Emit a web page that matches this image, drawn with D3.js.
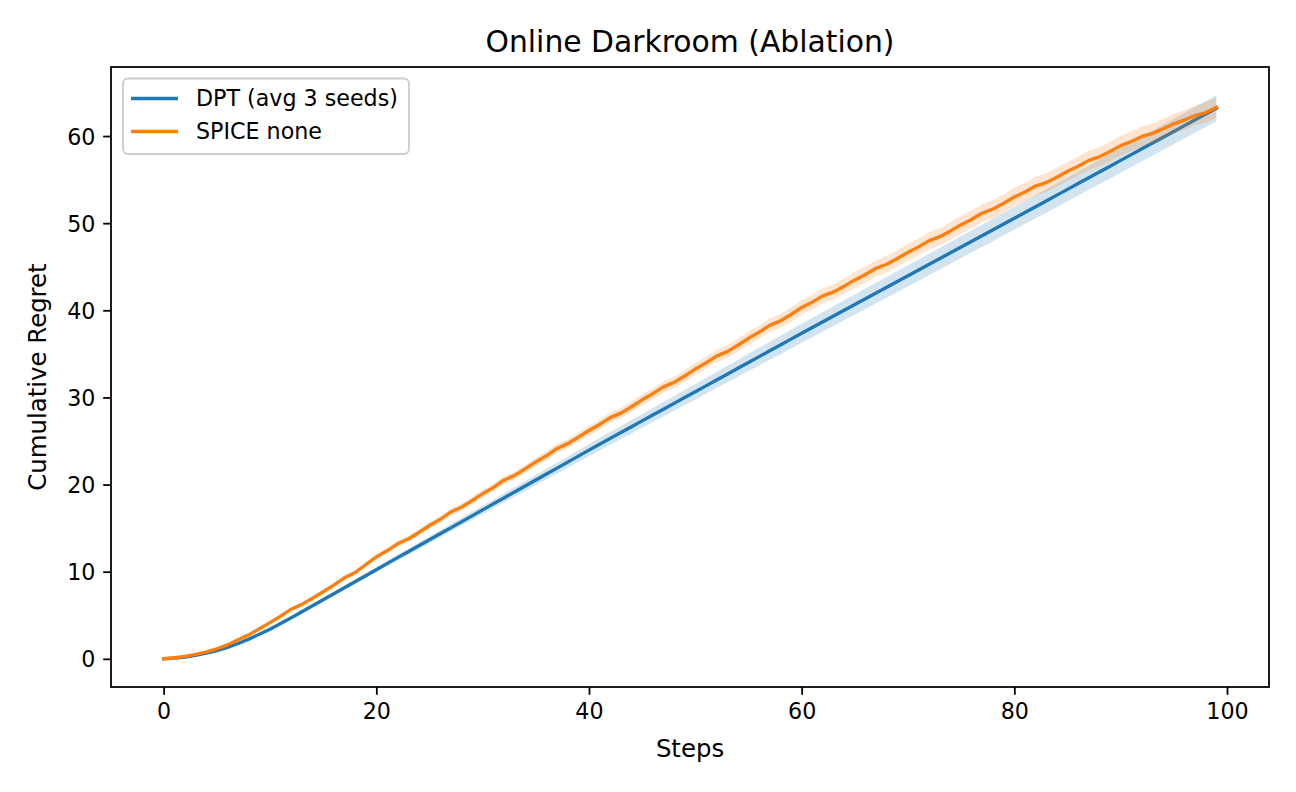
<!DOCTYPE html>
<html>
<head>
<meta charset="utf-8">
<script src="https://cdn.jsdelivr.net/npm/d3@7"></script>
<style>
  html, body { margin: 0; padding: 0; background: #ffffff; }
  svg { display: block; font-family: "DejaVu Sans", sans-serif; }
</style>
</head>
<body>
<svg id="chart" width="1296" height="792"></svg>
<script>
// ---- data ----
const steps = d3.range(0, 100);

const dptMean = [
  0.00, 0.07, 0.20, 0.39, 0.64, 0.95, 1.32, 1.76, 2.26, 2.81,
  3.40, 4.05, 4.72, 5.40, 6.09, 6.78, 7.47, 8.16, 8.85, 9.54,
  10.23, 10.92, 11.61, 12.29, 12.98, 13.66, 14.35, 15.03, 15.72, 16.41,
  17.09, 17.78, 18.46, 19.15, 19.83, 20.52, 21.21, 21.89, 22.58, 23.26,
  23.95, 24.63, 25.30, 25.97, 26.64, 27.31, 27.98, 28.65, 29.32, 29.99,
  30.66, 31.33, 32.00, 32.67, 33.34, 34.01, 34.68, 35.35, 36.02, 36.69,
  37.36, 38.02, 38.68, 39.34, 40.00, 40.66, 41.32, 41.98, 42.64, 43.30,
  43.96, 44.62, 45.28, 45.94, 46.60, 47.26, 47.92, 48.58, 49.24, 49.90,
  50.56, 51.22, 51.89, 52.55, 53.22, 53.88, 54.55, 55.21, 55.88, 56.54,
  57.21, 57.87, 58.54, 59.20, 59.87, 60.53, 61.20, 61.86, 62.53, 63.19
];
const dptSpread = [
  0.00, 0.01, 0.02, 0.03, 0.04, 0.05, 0.06, 0.08, 0.09, 0.10,
  0.12, 0.13, 0.15, 0.16, 0.18, 0.19, 0.21, 0.23, 0.25, 0.27,
  0.29, 0.31, 0.33, 0.35, 0.37, 0.39, 0.41, 0.43, 0.45, 0.47,
  0.49, 0.51, 0.53, 0.55, 0.57, 0.59, 0.61, 0.63, 0.65, 0.67,
  0.69, 0.71, 0.73, 0.75, 0.77, 0.79, 0.81, 0.83, 0.85, 0.87,
  0.89, 0.91, 0.93, 0.95, 0.97, 0.99, 1.01, 1.03, 1.05, 1.07,
  1.09, 1.10, 1.12, 1.13, 1.15, 1.16, 1.17, 1.18, 1.19, 1.20,
  1.21, 1.22, 1.23, 1.24, 1.25, 1.26, 1.27, 1.28, 1.29, 1.30,
  1.31, 1.32, 1.33, 1.34, 1.35, 1.36, 1.37, 1.38, 1.39, 1.40,
  1.41, 1.42, 1.43, 1.44, 1.45, 1.46, 1.47, 1.48, 1.49, 1.50
];

const spiceMean = [
  0.02, 0.12, 0.28, 0.52, 0.80, 1.15, 1.60, 2.20, 2.75, 3.45,
  4.15, 4.90, 5.70, 6.25, 6.95, 7.70, 8.45, 9.30, 9.90, 10.80,
  11.70, 12.40, 13.20, 13.75, 14.50, 15.30, 16.00, 16.85, 17.40, 18.15,
  18.95, 19.65, 20.50, 21.05, 21.80, 22.60, 23.30, 24.15, 24.70, 25.45,
  26.20, 26.90, 27.68, 28.20, 28.93, 29.73, 30.43, 31.21, 31.73, 32.46,
  33.26, 33.96, 34.74, 35.26, 35.99, 36.79, 37.49, 38.27, 38.79, 39.52,
  40.32, 40.94, 41.66, 42.11, 42.77, 43.49, 44.11, 44.83, 45.28, 45.94,
  46.66, 47.28, 48.00, 48.45, 49.11, 49.83, 50.45, 51.17, 51.62, 52.28,
  53.00, 53.58, 54.26, 54.66, 55.28, 55.95, 56.53, 57.21, 57.61, 58.23,
  58.90, 59.38, 59.96, 60.31, 60.83, 61.40, 61.85, 62.35, 62.70, 63.30
];
const spiceSpread = [
  0.00, 0.02, 0.03, 0.04, 0.05, 0.07, 0.08, 0.10, 0.11, 0.13,
  0.14, 0.15, 0.17, 0.18, 0.19, 0.21, 0.22, 0.24, 0.25, 0.27,
  0.28, 0.30, 0.31, 0.32, 0.34, 0.35, 0.37, 0.38, 0.40, 0.41,
  0.42, 0.44, 0.45, 0.46, 0.48, 0.49, 0.51, 0.52, 0.53, 0.55,
  0.56, 0.57, 0.59, 0.60, 0.61, 0.63, 0.64, 0.66, 0.67, 0.68,
  0.70, 0.71, 0.72, 0.74, 0.75, 0.76, 0.78, 0.79, 0.80, 0.82,
  0.83, 0.84, 0.86, 0.87, 0.88, 0.90, 0.91, 0.92, 0.94, 0.95,
  0.96, 0.97, 0.98, 0.99, 1.00, 1.01, 1.02, 1.03, 1.04, 1.05,
  1.06, 1.07, 1.07, 1.08, 1.09, 1.09, 1.10, 1.11, 1.11, 1.12,
  1.12, 1.13, 1.13, 1.14, 1.14, 1.15, 1.15, 1.15, 1.16, 1.16
];

const seriesNames = ["DPT (avg 3 seeds)", "SPICE none"];
const seriesColors = ["#1f77b4", "#ff7f0e"];
const xTicks = [0, 20, 40, 60, 80, 100];
const yTicks = [0, 10, 20, 30, 40, 50, 60];
const titleText = "Online Darkroom (Ablation)";
const xLabel = "Steps";
const yLabel = "Cumulative Regret";

// ---- layout ----
const svg = d3.select("#chart");
const L = 111, R = 1269, T = 67, B = 687;

const series = [
  { name: seriesNames[0], color: seriesColors[0], mean: dptMean, spread: dptSpread },
  { name: seriesNames[1], color: seriesColors[1], mean: spiceMean, spread: spiceSpread }
];

// matplotlib-like 5% margins
const xMin = d3.min(steps), xMax = d3.max(steps);
const xPad = (xMax - xMin) * 0.05;
let yLo = Infinity, yHi = -Infinity;
series.forEach(s => s.mean.forEach((m, i) => {
  yLo = Math.min(yLo, m - s.spread[i]);
  yHi = Math.max(yHi, m + s.spread[i]);
}));
const yPad = (yHi - yLo) * 0.05;

const x = d3.scaleLinear().domain([xMin - xPad, xMax + xPad]).range([L, R]);
const y = d3.scaleLinear().domain([yLo - yPad, yHi + yPad]).range([B, T]);

const plot = svg.append("g");
plot.append("clipPath").attr("id", "clip")
  .append("rect").attr("x", L).attr("y", T).attr("width", R - L).attr("height", B - T);

const g = plot.append("g").attr("clip-path", "url(#clip)");

series.forEach(s => {
  const area = d3.area()
    .x((d, i) => x(steps[i]))
    .y0((d, i) => y(s.mean[i] - s.spread[i]))
    .y1((d, i) => y(s.mean[i] + s.spread[i]));
  g.append("path").datum(s.mean).attr("d", area)
    .attr("fill", s.color).attr("fill-opacity", 0.2).attr("stroke", "none");
  const line = d3.line().x((d, i) => x(steps[i])).y(d => y(d));
  g.append("path").datum(s.mean).attr("d", line)
    .attr("fill", "none").attr("stroke", s.color).attr("stroke-width", 3.33)
    .attr("stroke-linejoin", "round").attr("stroke-linecap", "square");
});

// ---- axes ----
const fontTick = 22.2;
const xAxis = d3.axisBottom(x).tickValues(xTicks).tickSize(7.8).tickPadding(7.5).tickFormat(d3.format("d"));
const yAxis = d3.axisLeft(y).tickValues(yTicks).tickSize(7.8).tickPadding(7.8).tickFormat(d3.format("d"));

const gx = svg.append("g").attr("transform", `translate(0,${B})`).call(xAxis);
const gy = svg.append("g").attr("transform", `translate(${L},0)`).call(yAxis);
[gx, gy].forEach(a => {
  a.select(".domain").remove();
  a.selectAll(".tick line").attr("stroke", "#000").attr("stroke-width", 1.78);
  a.selectAll(".tick text").attr("fill", "#000").attr("font-size", fontTick)
    .attr("font-family", "DejaVu Sans");
});
gx.selectAll(".tick text").attr("dy", "0.74em");
gy.selectAll(".tick text").attr("dy", "0.36em");

// frame
svg.append("rect").attr("x", L).attr("y", T).attr("width", R - L).attr("height", B - T)
  .attr("fill", "none").attr("stroke", "#000").attr("stroke-width", 1.78);

// labels
svg.append("text").attr("x", (L + R) / 2).attr("y", 52).attr("text-anchor", "middle")
  .attr("font-size", 29.8).attr("fill", "#000").text(titleText);
svg.append("text").attr("x", (L + R) / 2).attr("y", 757).attr("text-anchor", "middle")
  .attr("font-size", 24.4).attr("fill", "#000").text(xLabel);
svg.append("text").attr("transform", `translate(46,${(T + B) / 2}) rotate(-90)`)
  .attr("text-anchor", "middle").attr("font-size", 24.4).attr("fill", "#000").text(yLabel);

// legend
const lg = svg.append("g");
lg.append("rect").attr("x", 123).attr("y", 78.5).attr("width", 286).attr("height", 75.5)
  .attr("rx", 5).attr("ry", 5).attr("fill", "#fff").attr("fill-opacity", 0.8)
  .attr("stroke", "#cccccc").attr("stroke-width", 1.78);
series.forEach((s, i) => {
  const cy = 98.5 + i * 33;
  lg.append("line").attr("x1", 131).attr("x2", 178).attr("y1", cy).attr("y2", cy)
    .attr("stroke", s.color).attr("stroke-width", 3.33);
  lg.append("text").attr("x", 196).attr("y", cy + 7.8).attr("font-size", 22.2)
    .attr("fill", "#000").text(s.name);
});
</script>
</body>
</html>
